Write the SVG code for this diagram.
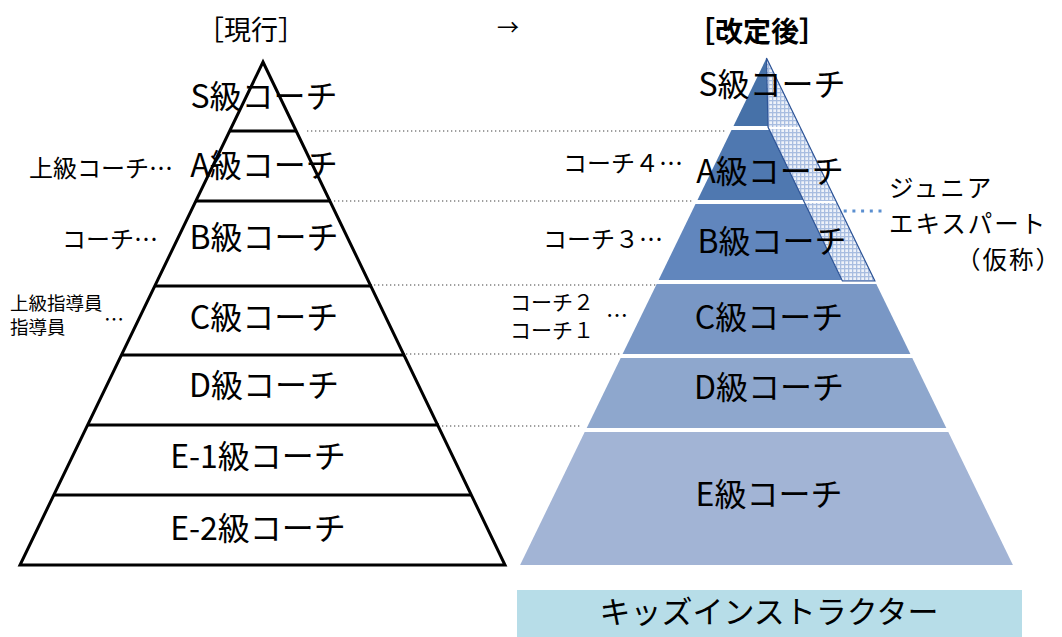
<svg xmlns="http://www.w3.org/2000/svg" width="1062" height="637" viewBox="0 0 1062 637">
<style>
text{font-family:"Noto Sans CJK JP","Noto Sans",sans-serif;fill:#000}
.t{font-size:32px;text-anchor:middle}
.s{font-size:24px}
.xs{font-size:18.5px}
.ln{stroke:#000;stroke-width:3;fill:none}
.dot{stroke:#808080;stroke-width:1.3;stroke-dasharray:1.3 2.7;fill:none}
.j{font-size:24.5px;letter-spacing:2px}
</style>
<defs>
<pattern id="hatch" width="4" height="4" patternUnits="userSpaceOnUse">
<rect width="4" height="4" fill="#eef2f9"/>
<rect width="4" height="1.3" fill="#a8bde0"/>
<rect width="1.3" height="4" fill="#a8bde0"/>
</pattern>
</defs>
<rect width="1062" height="637" fill="#fff"/>

<g id="headers">
<text x="251" y="40" style="font-size:27px;text-anchor:middle">［現行］</text>
<text x="508" y="35" style="font-size:22px;text-anchor:middle">→</text>
<text x="757" y="42" style="font-size:28px;text-anchor:middle;font-weight:bold">［改定後］</text>
</g>

<g id="connectors">
<line class="dot" x1="307" y1="131" x2="726" y2="131"/>
<line class="dot" x1="334" y1="201" x2="693" y2="201"/>
<line class="dot" x1="374" y1="285" x2="657" y2="285"/>
<line class="dot" x1="406" y1="354" x2="622" y2="354"/>
<line class="dot" x1="442" y1="426" x2="580" y2="426"/>
<line x1="835" y1="211" x2="887" y2="211" stroke="#5b8fd0" stroke-width="3" stroke-dasharray="3 5.7"/>
</g>

<g id="current-pyramid">
<path class="ln" d="M263,62 L505,565 L20,565 Z"/>
<line class="ln" x1="229" y1="131" x2="297" y2="131"/>
<line class="ln" x1="195" y1="201" x2="331" y2="201"/>
<line class="ln" x1="154" y1="286" x2="372" y2="286"/>
<line class="ln" x1="121" y1="355" x2="405" y2="355"/>
<line class="ln" x1="87" y1="425" x2="439" y2="425"/>
<line class="ln" x1="54" y1="495" x2="472" y2="495"/>
</g>
<g id="c-s"><text class="t" x="264" y="108">S級コーチ</text></g>
<g id="c-a"><text class="t" x="264" y="177">A級コーチ</text></g>
<g id="c-b"><text class="t" x="264" y="249">B級コーチ</text></g>
<g id="c-c"><text class="t" x="264" y="329">C級コーチ</text></g>
<g id="c-d"><text class="t" x="264" y="397">D級コーチ</text></g>
<g id="c-e1"><text class="t" x="258" y="468">E-1級コーチ</text></g>
<g id="c-e2"><text class="t" x="258" y="540">E-2級コーチ</text></g>

<g id="current-side-labels">
<text class="s" x="29" y="177">上級コーチ…</text>
<text class="s" x="62" y="248">コーチ…</text>
<text class="xs" x="10" y="310">上級指導員</text>
<text class="xs" x="10" y="334">指導員</text>
<text x="104" y="327" style="font-size:20px">…</text>
</g>

<g id="new-pyramid">
<polygon points="766.5,58 799.5,126 733.5,126" fill="#4671a8"/>
<polygon points="731.5,130 801.5,130 835.5,200 697.5,200" fill="#4f78b0"/>
<polygon points="695.5,204 837.5,204 874.4,280 658.6,280" fill="#6186bd"/>
<polygon points="656.7,284 876.3,284 910.4,354 622.6,354" fill="#7997c5"/>
<polygon points="620.7,358 912.3,358 946.3,428 586.7,428" fill="#8ea7cd"/>
<polygon points="584.7,432 948.3,432 1012.9,565 520.1,565" fill="#a2b4d5"/>
</g>
<g id="junior-band">
<path d="M766.5,58 L768,127 L842.4,281 L874.9,281 Z" fill="url(#hatch)"/>
<line x1="767" y1="128" x2="802" y2="128" stroke="#fff" stroke-width="2"/>
<line x1="802" y1="202" x2="837" y2="202" stroke="#fff" stroke-width="2"/>
<path d="M766.5,58 L768,127 L842.4,281 L874.9,281 Z" fill="none" stroke="#2f5597" stroke-width="1.2"/>
</g>
<g id="n-s"><text class="t" x="772" y="96">S級コーチ</text></g>
<g id="n-a"><text class="t" x="770" y="183">A級コーチ</text></g>
<g id="n-b"><text class="t" x="772" y="253">B級コーチ</text></g>
<g id="n-c"><text class="t" x="769" y="329">C級コーチ</text></g>
<g id="n-d"><text class="t" x="769" y="399">D級コーチ</text></g>
<g id="n-e"><text class="t" x="769" y="506">E級コーチ</text></g>

<g id="kids">
<rect x="517" y="590" width="505" height="47" fill="#b7dde8"/>
<text class="t" x="769" y="623" style="font-size:31px">キッズインストラクター</text>
</g>

<g id="new-side-labels">
<text class="s" x="563" y="172">コーチ４…</text>
<text class="s" x="543" y="248">コーチ３…</text>
<text x="510" y="310" style="font-size:21px">コーチ２</text>
<text x="510" y="338" style="font-size:21px">コーチ１</text>
<text x="606" y="323" style="font-size:22px">…</text>
</g>

<g id="junior-label">
<text class="j"><tspan x="889" y="197">ジュニア</tspan><tspan x="889" y="233">エキスパート</tspan><tspan x="956" y="269">（仮称）</tspan></text>
</g>
</svg>
